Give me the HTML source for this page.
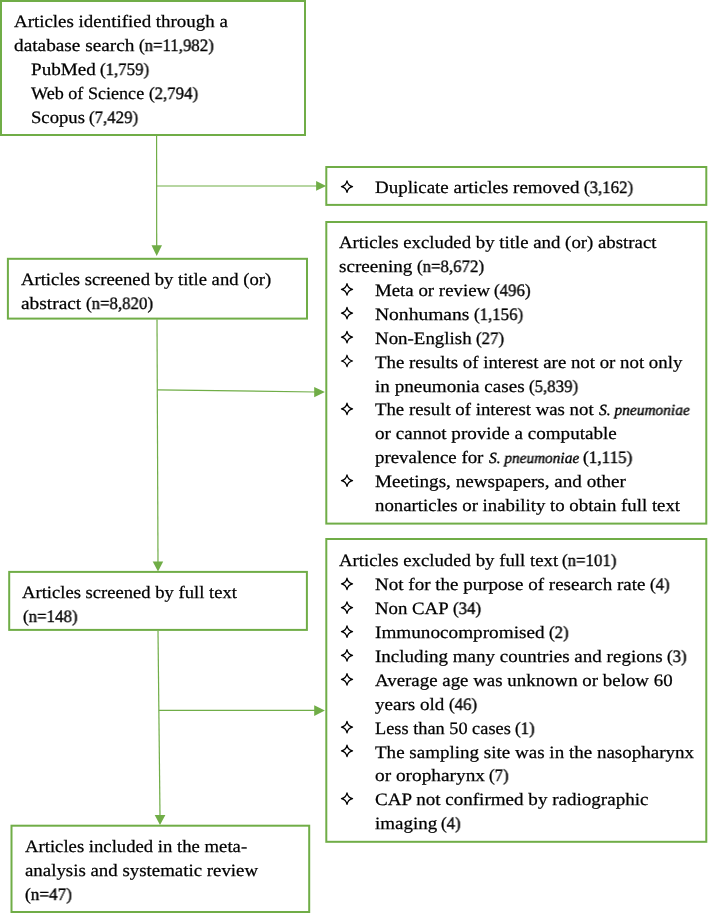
<!DOCTYPE html>
<html lang="en"><head><meta charset="utf-8"><title>Flow diagram</title>
<style>
html,body{margin:0;padding:0;background:#fff;}
body{width:708px;height:913px;position:relative;overflow:hidden;font-family:"Liberation Serif",serif;color:#000;}
.l{position:absolute;white-space:nowrap;font-size:17.4px;line-height:21px;height:21px;margin:0;}
.l i{font-size:15.5px;font-style:italic;-webkit-text-stroke:0.4px #000;}
.l{transform-origin:0 0;will-change:transform;text-rendering:geometricPrecision;-webkit-text-stroke:0.25px #000;}
.g{-webkit-text-stroke:0.35px #000;}
svg{position:absolute;left:0;top:0;}
</style></head><body>
<svg width="708" height="913" viewBox="0 0 708 913">
<g stroke="#70ad47" stroke-width="2" fill="#fff">
<rect x="1" y="1" width="304" height="134"/>
<rect x="7.9" y="258.8" width="299.1" height="59.8"/>
<rect x="9.2" y="571.9" width="297.7" height="58.0"/>
<rect x="11.5" y="825.7" width="297.7" height="86.3"/>
<rect x="326.3" y="167" width="380.0" height="37.9"/>
<rect x="326.3" y="222" width="380.0" height="301.6"/>
<rect x="326.3" y="539" width="380.0" height="302.8"/>
</g>
<g stroke="#70ad47" stroke-width="1.2" fill="none">
<line x1="156.6" y1="136" x2="156.7" y2="247"/>
<line x1="156.6" y1="186" x2="317" y2="186"/>
<line x1="157.0" y1="319.5" x2="158.0" y2="563"/>
<line x1="157.4" y1="389.8" x2="316" y2="392.0"/>
<line x1="158.0" y1="631" x2="160.0" y2="816"/>
<line x1="158.9" y1="710.4" x2="316" y2="710.4"/>
</g>
<g fill="#70ad47" stroke="none">
<polygon points="151.5,245.3 162,245.3 156.7,256"/>
<polygon points="152.7,561.4 163.2,561.4 158,571.4"/>
<polygon points="154.7,814.9 165.4,814.9 160,825"/>
<polygon points="316.1,181 316.1,190.8 326.2,185.95"/>
<polygon points="314.2,387 314.2,397.2 324.9,392.1"/>
<polygon points="314.2,705.3 314.2,716 324.9,710.6"/>
</g></svg>
<div class="l" style="left:14.0px;top:11px;transform:scaleX(1.0877)">Articles identified through a</div>
<div class="l" style="left:14.0px;top:35px;transform:scaleX(1.1094)">database search</div>
<div class="l g" style="left:138.81px;top:35px;transform:scaleX(0.968)">(n=11,982)</div>
<div class="l" style="left:31.0px;top:59px;transform:scaleX(1.0993)">PubMed</div>
<div class="l g" style="left:100.1px;top:59px;transform:scaleX(0.968)">(1,759)</div>
<div class="l" style="left:31.0px;top:83px;transform:scaleX(1.0414)">Web of Science</div>
<div class="l g" style="left:148.5px;top:83px;transform:scaleX(0.968)">(2,794)</div>
<div class="l" style="left:31.0px;top:107px;transform:scaleX(1.0727)">Scopus</div>
<div class="l g" style="left:89.2px;top:107px;transform:scaleX(0.968)">(7,429)</div>
<div class="l" style="left:21.0px;top:269px;transform:scaleX(1.0727)">Articles screened by title and (or)</div>
<div class="l" style="left:21.0px;top:293px;transform:scaleX(1.1131)">abstract</div>
<div class="l g" style="left:85.5px;top:293px;transform:scaleX(0.968)">(n=8,820)</div>
<div class="l" style="left:22.4px;top:582px;transform:scaleX(1.0697)">Articles screened by full text</div>
<div class="l g" style="left:23.0px;top:606px;transform:scaleX(0.9702)">(n=148)</div>
<div class="l" style="left:24.5px;top:836px;transform:scaleX(1.0746)">Articles included in the meta-</div>
<div class="l" style="left:24.5px;top:860px;transform:scaleX(1.0847)">analysis and systematic review</div>
<div class="l g" style="left:24.5px;top:884px;transform:scaleX(0.9877)">(n=47)</div>
<div class="l" style="left:375.0px;top:177px;transform:scaleX(1.0915)">Duplicate articles removed</div>
<div class="l g" style="left:583.8px;top:177px;transform:scaleX(0.968)">(3,162)</div>
<div class="l" style="left:339.0px;top:232px;transform:scaleX(1.0814)">Articles excluded by title and (or) abstract</div>
<div class="l" style="left:339.0px;top:256px;transform:scaleX(1.1014)">screening</div>
<div class="l g" style="left:416.7px;top:256px;transform:scaleX(0.968)">(n=8,672)</div>
<div class="l" style="left:375.0px;top:280px;transform:scaleX(1.0838)">Meta or review</div>
<div class="l g" style="left:494.43px;top:280px;transform:scaleX(0.968)">(496)</div>
<div class="l" style="left:375.0px;top:304px;transform:scaleX(1.123)">Nonhumans</div>
<div class="l g" style="left:473.7px;top:304px;transform:scaleX(0.968)">(1,156)</div>
<div class="l" style="left:375.0px;top:328px;transform:scaleX(1.0872)">Non-English</div>
<div class="l g" style="left:475.94px;top:328px;transform:scaleX(0.968)">(27)</div>
<div class="l" style="left:375.0px;top:352px;transform:scaleX(1.0821)">The results of interest are not or not only</div>
<div class="l" style="left:375.0px;top:376px;transform:scaleX(1.0993)">in pneumonia cases</div>
<div class="l g" style="left:529.0px;top:376px;transform:scaleX(0.968)">(5,839)</div>
<div class="l" style="left:375.0px;top:399px;transform:scaleX(1.0803)">The result of interest was not</div>
<div class="l" style="left:599.4px;top:399px;transform:scaleX(0.9938)"><i>S. pneumoniae</i></div>
<div class="l" style="left:375.0px;top:423px;transform:scaleX(1.0981)">or cannot provide a computable</div>
<div class="l" style="left:375.0px;top:447px;transform:scaleX(1.0847)">prevalence for</div>
<div class="l" style="left:488.7px;top:447px;transform:scaleX(0.9872)"><i>S. pneumoniae</i></div>
<div class="l g" style="left:583.0px;top:447px;transform:scaleX(0.9865)">(1,115)</div>
<div class="l" style="left:375.0px;top:471px;transform:scaleX(1.0983)">Meetings, newspapers, and other</div>
<div class="l" style="left:375.0px;top:495px;transform:scaleX(1.0817)">nonarticles or inability to obtain full text</div>
<div class="l" style="left:339.0px;top:550px;transform:scaleX(1.0803)">Articles excluded by full text</div>
<div class="l g" style="left:562.43px;top:550px;transform:scaleX(0.968)">(n=101)</div>
<div class="l" style="left:375.0px;top:574px;transform:scaleX(1.094)">Not for the purpose of research rate</div>
<div class="l g" style="left:649.77px;top:574px;transform:scaleX(0.968)">(4)</div>
<div class="l" style="left:375.0px;top:598px;transform:scaleX(1.0808)">Non CAP</div>
<div class="l g" style="left:452.94px;top:598px;transform:scaleX(0.968)">(34)</div>
<div class="l" style="left:375.0px;top:622px;transform:scaleX(1.1039)">Immunocompromised</div>
<div class="l g" style="left:548.87px;top:622px;transform:scaleX(0.968)">(2)</div>
<div class="l" style="left:375.0px;top:646px;transform:scaleX(1.0949)">Including many countries and regions</div>
<div class="l g" style="left:666.97px;top:646px;transform:scaleX(0.968)">(3)</div>
<div class="l" style="left:375.0px;top:670px;transform:scaleX(1.0862)">Average age was unknown or below 60</div>
<div class="l" style="left:375.0px;top:694px;transform:scaleX(1.0961)">years old</div>
<div class="l g" style="left:448.64px;top:694px;transform:scaleX(0.968)">(46)</div>
<div class="l" style="left:375.0px;top:718px;transform:scaleX(1.0528)">Less than 50 cases</div>
<div class="l g" style="left:515.07px;top:718px;transform:scaleX(0.968)">(1)</div>
<div class="l" style="left:375.0px;top:742px;transform:scaleX(1.0939)">The sampling site was in the nasopharynx</div>
<div class="l" style="left:375.0px;top:765px;transform:scaleX(1.1106)">or oropharynx</div>
<div class="l g" style="left:489.27px;top:765px;transform:scaleX(0.968)">(7)</div>
<div class="l" style="left:375.0px;top:789px;transform:scaleX(1.096)">CAP not confirmed by radiographic</div>
<div class="l" style="left:375.0px;top:813px;transform:scaleX(1.0907)">imaging</div>
<div class="l g" style="left:441.47px;top:813px;transform:scaleX(0.968)">(4)</div>
<svg width="708" height="913" viewBox="0 0 708 913"><g fill="none" stroke="#000" stroke-width="1.25" stroke-linejoin="round">
<path transform="translate(347.0 186.55)" d="M0,-5.75 Q0.9,-0.9 5.55,0 Q0.9,0.9 0,5.75 Q-0.9,0.9 -5.55,0 Q-0.9,-0.9 0,-5.75 Z"/>
<path transform="translate(347.0 289.27)" d="M0,-5.75 Q0.9,-0.9 5.55,0 Q0.9,0.9 0,5.75 Q-0.9,0.9 -5.55,0 Q-0.9,-0.9 0,-5.75 Z"/>
<path transform="translate(347.0 313.18)" d="M0,-5.75 Q0.9,-0.9 5.55,0 Q0.9,0.9 0,5.75 Q-0.9,0.9 -5.55,0 Q-0.9,-0.9 0,-5.75 Z"/>
<path transform="translate(347.0 337.09)" d="M0,-5.75 Q0.9,-0.9 5.55,0 Q0.9,0.9 0,5.75 Q-0.9,0.9 -5.55,0 Q-0.9,-0.9 0,-5.75 Z"/>
<path transform="translate(347.0 361.0)" d="M0,-5.75 Q0.9,-0.9 5.55,0 Q0.9,0.9 0,5.75 Q-0.9,0.9 -5.55,0 Q-0.9,-0.9 0,-5.75 Z"/>
<path transform="translate(347.0 408.82)" d="M0,-5.75 Q0.9,-0.9 5.55,0 Q0.9,0.9 0,5.75 Q-0.9,0.9 -5.55,0 Q-0.9,-0.9 0,-5.75 Z"/>
<path transform="translate(347.0 480.55)" d="M0,-5.75 Q0.9,-0.9 5.55,0 Q0.9,0.9 0,5.75 Q-0.9,0.9 -5.55,0 Q-0.9,-0.9 0,-5.75 Z"/>
<path transform="translate(347.0 583.82)" d="M0,-5.75 Q0.9,-0.9 5.55,0 Q0.9,0.9 0,5.75 Q-0.9,0.9 -5.55,0 Q-0.9,-0.9 0,-5.75 Z"/>
<path transform="translate(347.0 607.69)" d="M0,-5.75 Q0.9,-0.9 5.55,0 Q0.9,0.9 0,5.75 Q-0.9,0.9 -5.55,0 Q-0.9,-0.9 0,-5.75 Z"/>
<path transform="translate(347.0 631.56)" d="M0,-5.75 Q0.9,-0.9 5.55,0 Q0.9,0.9 0,5.75 Q-0.9,0.9 -5.55,0 Q-0.9,-0.9 0,-5.75 Z"/>
<path transform="translate(347.0 655.43)" d="M0,-5.75 Q0.9,-0.9 5.55,0 Q0.9,0.9 0,5.75 Q-0.9,0.9 -5.55,0 Q-0.9,-0.9 0,-5.75 Z"/>
<path transform="translate(347.0 679.3)" d="M0,-5.75 Q0.9,-0.9 5.55,0 Q0.9,0.9 0,5.75 Q-0.9,0.9 -5.55,0 Q-0.9,-0.9 0,-5.75 Z"/>
<path transform="translate(347.0 727.04)" d="M0,-5.75 Q0.9,-0.9 5.55,0 Q0.9,0.9 0,5.75 Q-0.9,0.9 -5.55,0 Q-0.9,-0.9 0,-5.75 Z"/>
<path transform="translate(347.0 750.91)" d="M0,-5.75 Q0.9,-0.9 5.55,0 Q0.9,0.9 0,5.75 Q-0.9,0.9 -5.55,0 Q-0.9,-0.9 0,-5.75 Z"/>
<path transform="translate(347.0 798.65)" d="M0,-5.75 Q0.9,-0.9 5.55,0 Q0.9,0.9 0,5.75 Q-0.9,0.9 -5.55,0 Q-0.9,-0.9 0,-5.75 Z"/>
</g></svg>
</body></html>
